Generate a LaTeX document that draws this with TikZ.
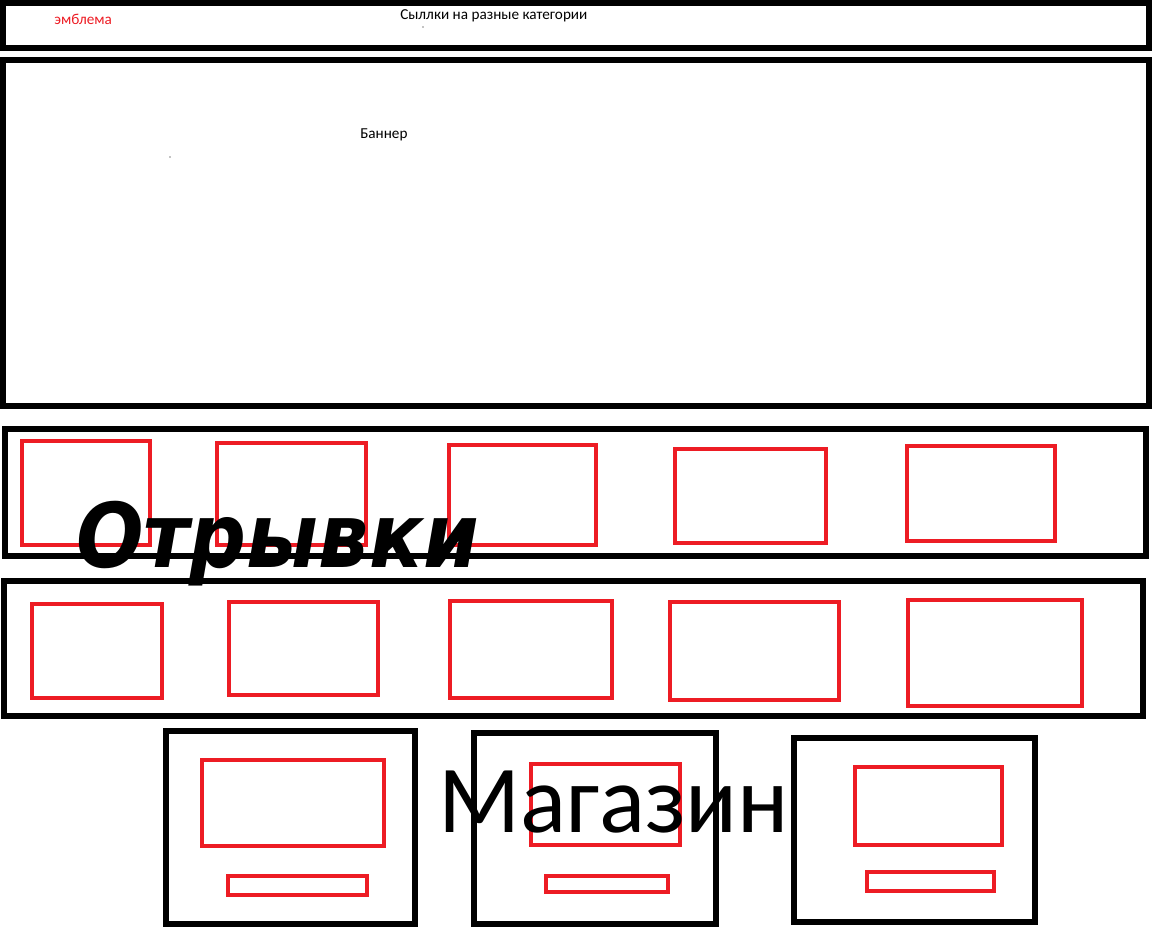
\documentclass[tikz,border=0pt]{standalone}
\usepackage{fontspec}
\setmainfont{Carlito}
\newfontfamily\boldit{DejaVu Sans}
\usepackage{tikz}
\usetikzlibrary{positioning}
\definecolor{paintred}{RGB}{237,28,36}

\tikzset{
  blackbox/.style={draw=black, line width=4pt},
  redbox/.style={draw=paintred, line width=3pt},
  smalltext/.style={inner sep=0pt, font=\fontsize{11.4}{13}\selectfont}
}

\begin{document}
\begin{tikzpicture}[x=0.75pt,y=0.75pt,yscale=-1,xscale=1]
  \useasboundingbox (0,0) rectangle (1152,935);

  % Header
  \draw [blackbox] (3,3) rectangle (1149,48);
  % Text Node
  \node (logo) [smalltext, text=paintred, anchor=west] at (54,19) {эмблема};
  % Text Node
  \node (links) [smalltext, anchor=west] at (400,16) {Сыллки на разные категории};
  \fill (423,27) circle (0.6);

  % Banner
  \draw [blackbox] (3,60) rectangle (1149,406);
  % Text Node
  \node (banner) [smalltext, anchor=west] at (360,135) {Баннер};
  \fill (170,157) circle (0.6);

  % Row 1
  \draw [blackbox] (5,429) rectangle (1146,556);
  \draw [redbox] (22,441) rectangle (150,545);
  \draw [redbox] (217,443) rectangle (366,545);
  \draw [redbox] (449,445) rectangle (596,545);
  \draw [redbox] (675,449) rectangle (826,543);
  \draw [redbox] (907,446) rectangle (1055,541);

  % Row 2
  \draw [blackbox] (4,581) rectangle (1143,716);
  \draw [redbox] (32,604) rectangle (162,698);
  \draw [redbox] (229,602) rectangle (378,695);
  \draw [redbox] (450,601) rectangle (612,698);
  \draw [redbox] (670,602) rectangle (839,700);
  \draw [redbox] (908,600) rectangle (1082,706);

  % Shop cards
  \draw [blackbox] (166,731) rectangle (415,924);
  \draw [redbox] (202,760) rectangle (384,846);
  \draw [redbox] (228,876) rectangle (367,895);

  \draw [blackbox] (474,733) rectangle (716,924);
  \draw [redbox] (531,764) rectangle (680,845);
  \draw [redbox] (546,876) rectangle (668,892);

  \draw [blackbox] (794,738) rectangle (1035,922);
  \draw [redbox] (855,767) rectangle (1002,845);
  \draw [redbox] (867,872) rectangle (994,891);

  % Text Node
  \node (excerpts) [inner sep=0pt, anchor=base west, font=\boldit\bfseries\itshape\fontsize{67}{70}\selectfont] at (76,567) {\scalebox{0.89}[1]{Отрывки}};
  % Text Node
  \node (shop) [inner sep=0pt, anchor=base west, font=\fontsize{72}{78}\selectfont] at (438,832) {Магазин};
\end{tikzpicture}
\end{document}
